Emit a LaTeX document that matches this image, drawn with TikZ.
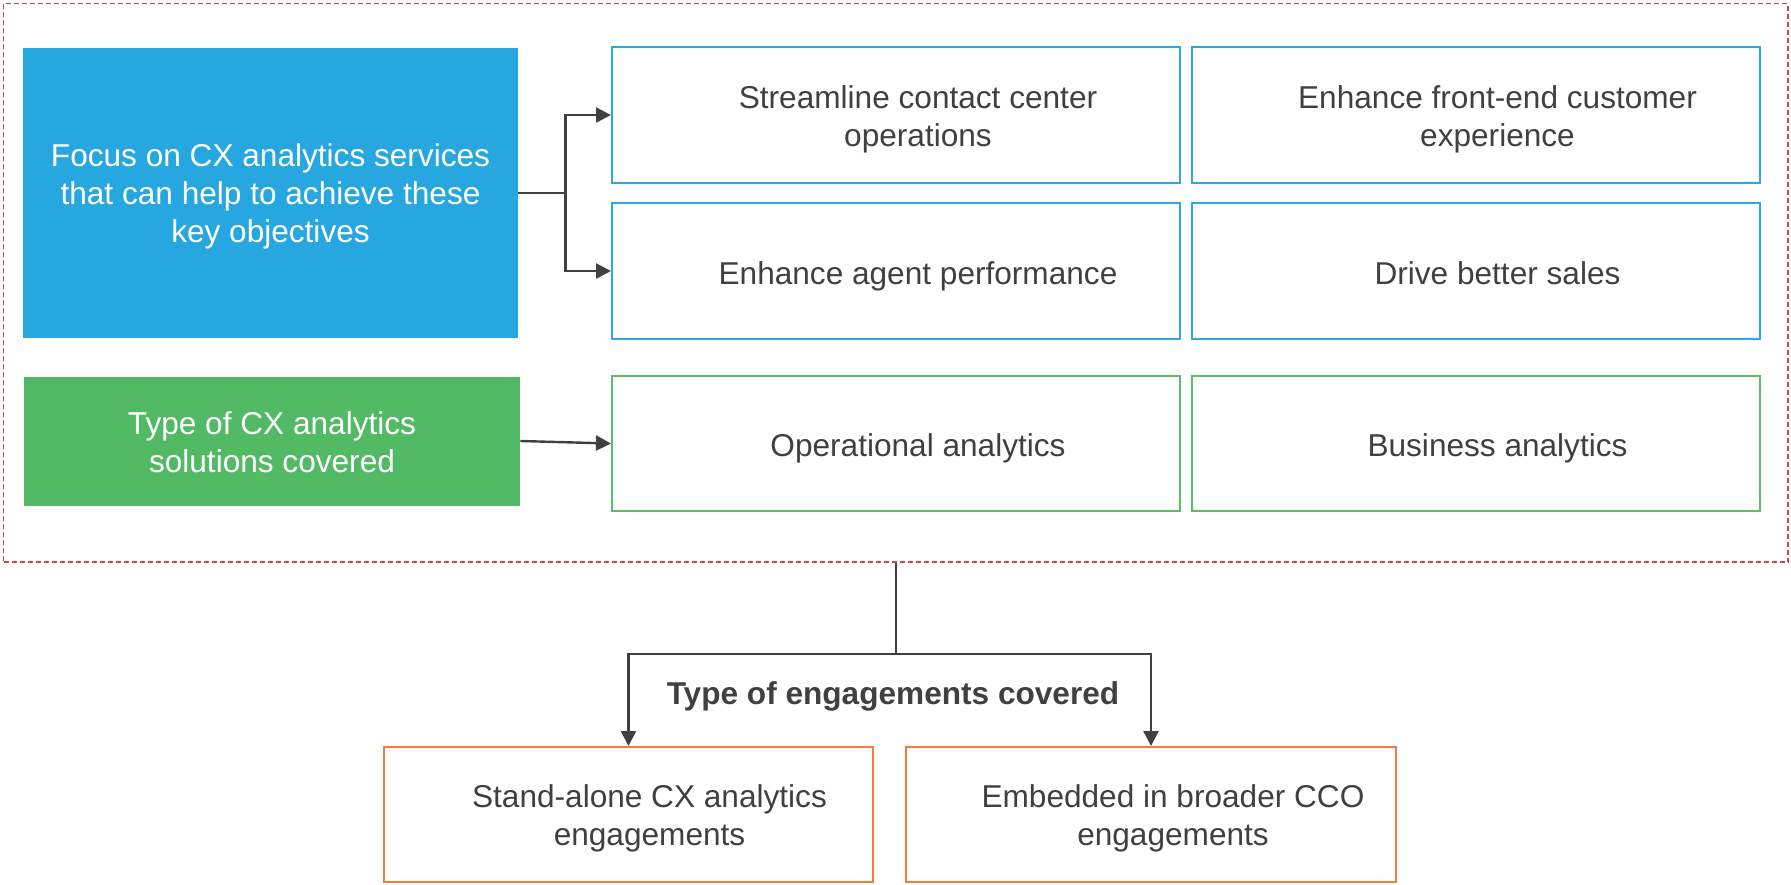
\documentclass[tikz,border=0pt]{standalone}
\usepackage{fontspec}
\setmainfont{Liberation Sans}
\usetikzlibrary{arrows.meta}

\definecolor{txtgray}{RGB}{64,64,64}
\definecolor{cxblue}{RGB}{39,167,224}
\definecolor{cxblueline}{RGB}{41,171,226}
\definecolor{cxgreen}{RGB}{82,186,100}
\definecolor{cxgreenline}{RGB}{92,190,106}
\definecolor{cxorange}{RGB}{244,124,60}
\definecolor{cxred}{RGB}{214,64,84}
\definecolor{linkgray}{RGB}{64,64,64}

\begin{document}
\begin{tikzpicture}[
  x=0.5pt, y=-0.5pt,
  every node/.style={font=\fontsize{15.8pt}{19pt}\selectfont, align=center, inner sep=0pt},
  headbox/.style={fill=#1, draw=none, minimum width=247.5pt},
  goalbox/.style={draw=cxblueline, line width=1pt, fill=white, minimum width=284pt, minimum height=68pt},
  kindbox/.style={draw=cxgreenline, line width=1pt, fill=white, minimum width=284pt, minimum height=67.5pt},
  engbox/.style={draw=cxorange, line width=1pt, fill=white, minimum width=244.5pt, minimum height=67.5pt},
  % labels are placed by the baseline of their last line
  lbl/.style={text=txtgray, anchor=base},
  whitelbl/.style={text=white, anchor=base},
  oneline/.style={xshift=11pt, yshift=-6.5pt},
  twolines/.style={xshift=11pt, yshift=-15.7pt},
  frame/.style={draw=cxred, line width=0.75pt, dash pattern=on 2.5pt off 1.5pt},
  link/.style={draw=linkgray, line width=1.2pt},
  conn/.style={link, -{Triangle[length=7.5pt,width=7.5pt]}}
]
\useasboundingbox (0,0) rectangle (1791,884);

% dashed frame around the objectives and solution types
\node[frame, minimum width=892.25pt, minimum height=279.25pt] (frame) at (895.75,282.75) {};

% left-hand headers
\node[headbox=cxblue, minimum height=145pt] (focus) at (270.5,193) {};
\node[whitelbl] (t-focus) at ([yshift=-24.9pt]focus.center) {Focus on CX analytics services\\that can help to achieve these\\key objectives};
\node[headbox=cxgreen, minimum width=248pt, minimum height=64.5pt] (kind) at (272,441) {};
\node[whitelbl] (t-kind) at ([yshift=-15.8pt]kind.center) {Type of CX analytics\\solutions covered};

% key objectives
\node[goalbox] (stream) at (896,115) {};
\node[goalbox] (front)  at (1475.5,115) {};
\node[goalbox] (agent)  at (896,271) {};
\node[goalbox] (sales)  at (1475.5,271) {};
\node[lbl] (t-stream) at ([twolines]stream.center) {Streamline contact center\\operations};
\node[lbl] (t-front)  at ([twolines]front.center) {Enhance front-end customer\\experience};
\node[lbl] (t-agent)  at ([oneline]agent.center) {Enhance agent performance};
\node[lbl] (t-sales)  at ([oneline]sales.center) {Drive better sales};

% solution types
\node[kindbox] (oper) at (896,443.5) {};
\node[kindbox] (bus)  at (1475.5,443.5) {};
\node[lbl] (t-oper) at ([oneline]oper.center) {Operational analytics};
\node[lbl] (t-bus)  at ([oneline]bus.center) {Business analytics};

% engagement types
\node[engbox] (alone) at (628.5,814.5) {};
\node[engbox, minimum width=245pt] (embed) at (1151,814.5) {};
\node[lbl] (t-alone) at ([twolines,xshift=-0.5pt]alone.center) {Stand-alone CX analytics\\engagements};
\node[lbl] (t-embed) at ([twolines]embed.center) {Embedded in broader CCO\\engagements};
\node[text=txtgray, font=\fontsize{15.8pt}{19pt}\selectfont\bfseries, anchor=base] (engtype) at (893,704) {Type of engagements covered};

% connectors
\coordinate (split) at ([xshift=23.5pt]focus.east);
\draw[link] (focus.east) -- (split);
\draw[conn] (split) |- (stream.west);
\draw[conn] (split) |- (agent.west);
\draw[conn] (kind.east) -- (oper.west);

\coordinate (hub) at (frame.south |- 0,654);
\draw[link] (frame.south) -- (hub);
\draw[conn] (hub) -| (alone.north);
\draw[conn] (hub) -| (embed.north);
\end{tikzpicture}
\end{document}
